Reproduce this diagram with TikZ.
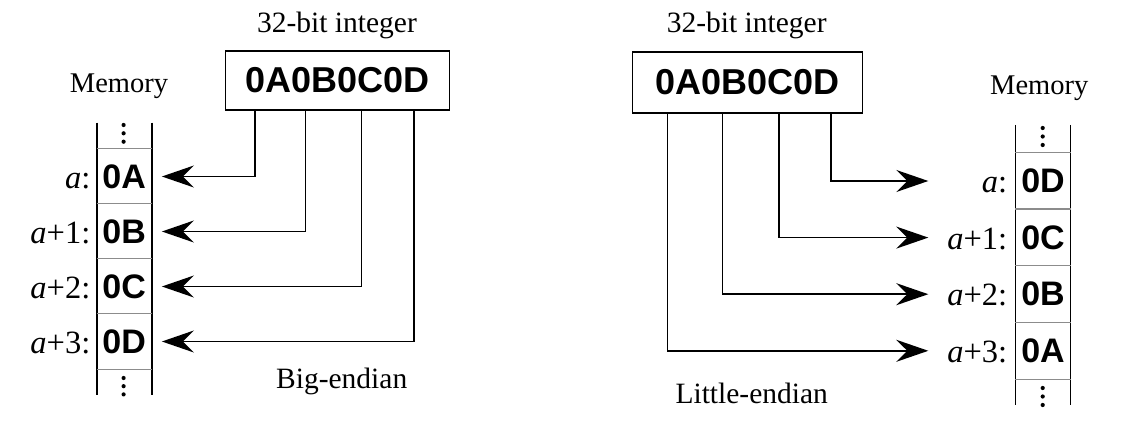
\documentclass[tikz,border=0pt]{standalone}
\usepackage{fontspec}
\setmainfont{Liberation Serif}
\newfontfamily\hexfont{Liberation Sans}
\usetikzlibrary{arrows.meta,calc}
\begin{document}
\begin{tikzpicture}[x=1pt,y=-1pt,
  lbl/.style={font=\fontsize{29.5}{31}\selectfont, inner sep=0},
  memlbl/.style={font=\fontsize{28.5}{30}\selectfont, inner sep=0},
  addr/.style={font=\fontsize{32.5}{34}\selectfont, inner sep=0, anchor=base east},
  cell/.style={minimum width=55pt, inner sep=0, font=\hexfont\bfseries\fontsize{34}{36}\selectfont},
  intbox/.style={draw, line width=1.9pt, inner sep=0, font=\hexfont\bfseries\fontsize{36}{38}\selectfont},
  arr/.style={line width=1.7pt, -{Stealth[length=32pt,width=22pt,inset=11pt]}},
  col/.style={line width=1.8pt},
  sep/.style={line width=1.3pt, black!45},
  dotc/.style={fill=black}]
\useasboundingbox (0,0) rectangle (1141,427);

% ---------- Big-endian (left) ----------
\node[lbl] (ltitle) at (337,25) {32-bit integer};
\node[intbox, minimum width=224pt, minimum height=59pt] (lbox) at (337.5,80.4) {0A0B0C0D};
\node[memlbl] (lmem) at (119,86) {Memory};
\node[lbl] (lname) at (341.7,381.7) {Big-endian};

\node[cell, minimum height=55pt] (lA) at (124.2,176.5) {0A};
\node[cell, minimum height=55pt] (lB) at (124.2,231.5) {0B};
\node[cell, minimum height=55pt] (lC) at (124.2,286.5) {0C};
\node[cell, minimum height=55pt] (lD) at (124.2,341.5) {0D};

\coordinate (ltl) at (96.7,122.7);
\coordinate (lbl) at (96.7,395);
\coordinate (ltr) at (151.7,122.7);
\coordinate (lbr) at (151.7,395);
\draw[col] (ltl) -- (lbl);
\draw[col] (ltr) -- (lbr);
\foreach \c in {lA,lB,lC,lD}{
  \draw[sep] (\c.north west) -- (\c.north east);
}
\draw[sep] (lD.south west) -- (lD.south east);

\foreach \y in {125,133.3,141.7,378,386.2,394.4}{
  \fill[dotc] (123.6,\y) circle (2.1);
}

\node[addr] (laA) at ([xshift=-6pt]lA.base west) {\textit{a}:};
\node[addr] (laB) at ([xshift=-6pt]lB.base west) {\textit{a}+1:};
\node[addr] (laC) at ([xshift=-6pt]lC.base west) {\textit{a}+2:};
\node[addr] (laD) at ([xshift=-6pt]lD.base west) {\textit{a}+3:};

\draw[arr] ([xshift=30.3pt]lbox.south west) |- ([xshift=10pt]lA.east);
\draw[arr] ([xshift=81pt]lbox.south west) |- ([xshift=10pt]lB.east);
\draw[arr] ([xshift=137pt]lbox.south west) |- ([xshift=10pt]lC.east);
\draw[arr] ([xshift=189.3pt]lbox.south west) |- ([xshift=10pt]lD.east);

% ---------- Little-endian (right) ----------
\node[lbl] (rtitle) at (746.7,25) {32-bit integer};
\node[intbox, minimum width=230pt, minimum height=61pt] (rbox) at (747.5,82.3) {0A0B0C0D};
\node[memlbl] (rmem) at (1039.3,88.3) {Memory};
\node[lbl] (rname) at (751.7,393) {Little-endian};

\node[cell, minimum height=56.6pt] (rD) at (1043,181) {0D};
\node[cell, minimum height=56.6pt] (rC) at (1043,237.6) {0C};
\node[cell, minimum height=56.6pt] (rB) at (1043,294.2) {0B};
\node[cell, minimum height=56.6pt] (rA) at (1043,350.8) {0A};

\coordinate (rtl) at (1015.5,125);
\coordinate (rbl) at (1015.5,405);
\coordinate (rtr) at (1070.5,125);
\coordinate (rbr) at (1070.5,405);
\draw[col] (rtl) -- (rbl);
\draw[col] (rtr) -- (rbr);
\foreach \c in {rD,rC,rB,rA}{
  \draw[sep] (\c.north west) -- (\c.north east);
}
\draw[sep] (rA.south west) -- (rA.south east);

\foreach \y in {128,136.5,145,388,396.5,405}{
  \fill[dotc] (1042.7,\y) circle (2.1);
}

\node[addr] (raD) at ([xshift=-8pt]rD.base west) {\textit{a}:};
\node[addr] (raC) at ([xshift=-8pt]rC.base west) {\textit{a}+1:};
\node[addr] (raB) at ([xshift=-8pt]rB.base west) {\textit{a}+2:};
\node[addr] (raA) at ([xshift=-8pt]rA.base west) {\textit{a}+3:};

\draw[arr] ([xshift=199.4pt]rbox.south west) |- ([xshift=-87pt]rD.west);
\draw[arr] ([xshift=147.7pt]rbox.south west) |- ([xshift=-87pt]rC.west);
\draw[arr] ([xshift=91pt]rbox.south west) |- ([xshift=-87pt]rB.west);
\draw[arr] ([xshift=36pt]rbox.south west) |- ([xshift=-87pt]rA.west);
\end{tikzpicture}
\end{document}
